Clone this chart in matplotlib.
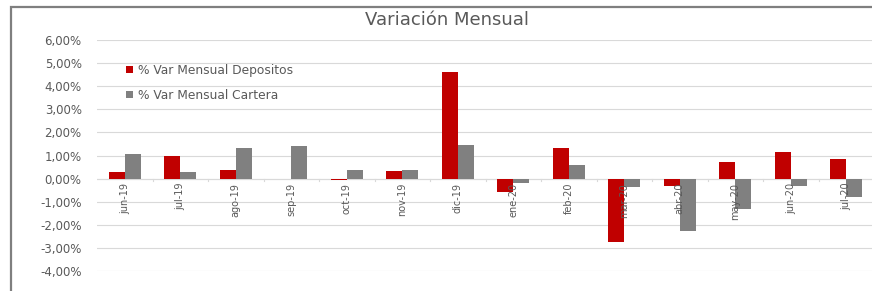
import numpy as np
import matplotlib.pyplot as plt
from matplotlib.patches import Rectangle

# Monthly values (%)
months = ["jun-19", "jul-19", "ago-19", "sep-19", "oct-19", "nov-19", "dic-19",
          "ene-20", "feb-20", "mar-20", "abr-20", "may-20", "jun-20", "jul-20"]
var_depositos = [0.29, 1.00, 0.36, 0.00, -0.05, 0.31, 4.63,
                 -0.57, 1.31, -2.76, -0.30, 0.70, 1.13, 0.87]
var_cartera = [1.06, 0.29, 1.34, 1.39, 0.36, 0.36, 1.44,
               -0.19, 0.60, -0.37, -2.26, -1.30, -0.34, -0.80]
yticks = [-4, -3, -2, -1, 0, 1, 2, 3, 4, 5, 6]

plt.rcParams['font.family'] = ['DejaVu Sans']

fig = plt.figure(figsize=(8.72, 2.91), dpi=100)
W, H = 872, 291

# outer chart border (cropped)
fig.patches.append(Rectangle((11 / W, -0.1), 1.1, (H - 7) / H + 0.1,
                             transform=fig.transFigure, fill=False,
                             edgecolor='#7f7f7f', linewidth=1.6))

ax = fig.add_axes([97 / W, (H - 271) / H, (874 - 97) / W, 231 / H])
x = np.arange(len(months))
w = 0.29
ax.bar(x - w / 2, var_depositos, w, color='#c00000', label='% Var Mensual Depositos', zorder=2)
ax.bar(x + w / 2, var_cartera, w, color='#808080', label='% Var Mensual Cartera', zorder=2)

ax.set_xlim(-0.5, len(months) - 0.5)
ax.set_ylim(-4, 6)
ax.set_yticks(yticks)
ax.set_yticklabels([f"{v:.2f}%".replace(".", ",") for v in yticks])
ax.grid(axis='y', color='#d9d9d9', linewidth=0.8, zorder=0)
ax.axhline(0, color='#d9d9d9', linewidth=0.8, zorder=1)
for s in ax.spines.values():
    s.set_visible(False)
ax.tick_params(axis='y', length=0, pad=11, labelsize=8.5, labelcolor='#595959')
ax.set_xticks([])

# category labels just under the zero line
for xi, m in zip(x, months):
    ax.annotate(m, (xi, 0), xytext=(0, -3), textcoords='offset points',
                rotation=90, ha='center', va='top', fontsize=7,
                color='#595959', zorder=3)
# small tick marks on the zero line between categories
for xb in np.arange(0.5, len(months) - 0.5, 1):
    ax.plot([xb, xb], [0, -0.12], color='#d9d9d9', linewidth=0.8, zorder=1)

leg = ax.legend(loc='upper left', bbox_to_anchor=(0.028, 0.93), frameon=False,
                fontsize=8.8, handlelength=0.6, handleheight=0.5, labelspacing=1.0,
                handletextpad=0.4, borderaxespad=0.2)
for t in leg.get_texts():
    t.set_color('#595959')

fig.text(447 / W, 1 - 20 / H, "Variación Mensual", ha='center', va='center',
         fontsize=13, color='#595959')

fig.savefig("out.png", dpi=100)
